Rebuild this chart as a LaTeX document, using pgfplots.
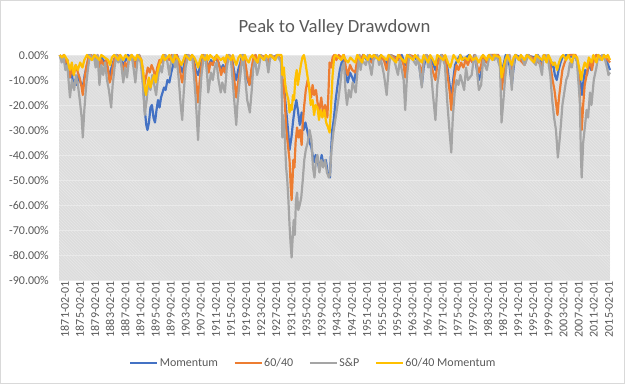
\documentclass[border=0pt]{standalone}
\usepackage{fontspec}
\setmainfont{Carlito}
\usepackage{pgfplots}
\pgfplotsset{compat=1.18}
\usepackage{pgfplotstable}
\usetikzlibrary{patterns}
\definecolor{cMom}{HTML}{4472C4}
\definecolor{cSixty}{HTML}{ED7D31}
\definecolor{cSP}{HTML}{A5A5A5}
\definecolor{cYel}{HTML}{FFC000}
\definecolor{txt}{HTML}{595959}
\definecolor{bgc}{HTML}{DCDCDC}
\definecolor{hatch}{HTML}{E9E9E9}
\definecolor{frame}{HTML}{D9D9D9}
\newcommand\tickfont{\fontsize{12bp}{14bp}\selectfont}

\pgfplotstableread{
x y
1871.0 0
1871.5 -2
1872.0 -1
1872.5 -4
1873.0 -2
1873.7 -9
1874.2 -7
1874.6 -13
1875.0 -10
1875.5 -12
1876.0 -8
1876.5 -11
1877.1 -13
1877.6 -8
1878.2 -4
1878.8 0
1879.5 -1
1880.0 0
1880.5 -2
1881.5 -3
1882.0 -1
1882.5 -2
1883.5 -4
1884.2 -9
1884.7 -5
1885.3 -2
1886.0 0
1887.0 -1
1887.8 -4
1888.5 -2
1889.0 0
1890.0 -1
1890.6 -3
1891.0 -4
1891.5 -1
1892.0 0
1892.6 -3
1893.0 -10
1893.5 -22
1893.9 -28
1894.2 -30
1894.6 -27
1895.0 -21
1895.4 -20
1895.8 -25
1896.2 -27
1896.6 -22
1897.0 -18
1897.4 -21
1897.8 -17
1898.2 -15
1898.6 -13
1899.0 -14
1899.5 -10
1900.0 -11
1900.5 -7
1901.0 -4
1901.5 -1
1902.0 0
1902.5 -2
1903.0 -5
1903.5 -7
1904.0 -3
1904.5 0
1905.5 -1
1906.0 0
1906.6 -3
1907.0 -6
1907.6 -8
1908.2 -4
1908.8 0
1909.5 -1
1910.3 -5
1911.0 -2
1911.5 -4
1912.0 -1
1913.0 -3
1913.6 -6
1914.2 -4
1914.7 -7
1915.2 -2
1915.8 0
1916.5 -1
1917.2 -7
1917.7 -10
1918.2 -6
1918.8 -3
1919.3 0
1920.0 -4
1920.7 -10
1921.2 -12
1921.7 -7
1922.2 -2
1922.8 0
1923.4 -3
1924.0 0
1925.0 -1
1926.2 -3
1926.7 0
1927.5 -1
1928.5 0
1929.5 -2
1929.9 -10
1930.5 -15
1930.9 -22
1931.4 -30
1931.8 -38
1932.3 -33
1932.7 -27
1933.1 -22
1933.6 -18
1934.0 -22
1934.5 -28
1935.0 -23
1935.5 -30
1936.0 -27
1936.6 -31
1937.1 -35
1937.6 -37
1938.2 -43
1938.7 -40
1939.2 -42
1939.7 -46
1940.3 -40
1940.8 -44
1941.4 -42
1941.9 -47
1942.5 -49
1942.8 -38
1943.1 -30
1943.5 -26
1944.0 -18
1944.6 -11
1945.1 -6
1945.6 -3
1946.1 -2
1946.7 -8
1947.2 -11
1947.8 -7
1948.4 -9
1948.9 -11
1949.4 -6
1950.0 -2
1950.6 -4
1951.2 0
1952.3 -2
1953.0 0
1953.6 -3
1954.2 0
1955.5 -1
1956.0 0
1956.8 -2
1957.3 -4
1957.8 -2
1958.5 0
1960.0 -1
1960.6 -2
1961.5 0
1962.4 -4
1963.0 0
1965.0 -1
1966.0 -3
1966.8 -12
1967.3 -5
1968.0 0
1969.3 -2
1969.9 -4
1970.4 -6
1971.0 -2
1972.0 0
1973.4 -3
1974.0 -10
1974.6 -17
1975.1 -10
1975.6 -4
1976.2 -2
1977.0 0
1977.8 -2
1978.5 -1
1979.3 0
1980.2 -3
1980.7 0
1981.4 -6
1981.9 -10
1982.5 -7
1983.0 -1
1984.0 -3
1984.6 0
1986.0 -1
1987.0 0
1987.9 -6
1988.4 -4
1989.0 0
1990.0 -4
1990.6 -12
1991.1 -5
1991.6 0
1993.0 -1
1994.0 -3
1994.6 0
1996.5 -1
1997.5 0
1998.6 -3
1999.2 0
2000.4 -2
2001.0 -5
2001.5 -3
2002.0 -8
2002.5 -10
2003.0 -6
2003.5 -3
2004.0 -1
2005.0 0
2006.0 -1
2006.8 0
2007.5 -1
2008.0 -3
2008.5 -8
2008.9 -12
2009.2 -16
2009.6 -10
2010.0 -6
2010.5 -8
2011.0 -3
2011.6 -6
2012.2 -2
2013.0 0
2014.0 -1
2015.0 0
2015.6 -2
2016.1 -4
2016.6 -6
}\tblMom

\pgfplotstableread{
x y
1871.0 0
1871.5 -2
1872.0 0
1872.5 -3
1873.0 -2
1873.7 -9
1874.2 -5
1874.7 -8
1875.2 -4
1875.8 -7
1876.4 -10
1876.8 -13
1877.1 -16
1877.5 -10
1878.0 -5
1878.6 -1
1879.2 0
1880.5 -2
1881.0 0
1881.5 -5
1882.0 -2
1882.6 -4
1883.3 -2
1883.8 -6
1884.2 -11
1884.6 -9
1885.1 -4
1885.6 -1
1886.2 0
1887.0 -1
1887.8 -7
1888.3 -3
1888.8 -5
1889.4 -1
1890.0 0
1890.6 -3
1891.0 -5
1891.5 -1
1892.0 0
1892.6 -2
1893.0 -6
1893.4 -12
1893.8 -9
1894.3 -5
1894.8 -7
1895.3 -4
1895.8 -6
1896.3 -9
1896.8 -5
1897.4 -2
1898.0 -3
1898.6 0
1899.5 -1
1900.0 -2
1900.6 0
1901.5 -2
1902.0 0
1902.6 -4
1903.0 -8
1903.4 -11
1903.9 -6
1904.4 -2
1905.0 0
1906.0 -1
1906.6 -4
1907.1 -10
1907.6 -19
1908.0 -11
1908.5 -4
1909.1 0
1910.0 -3
1910.4 -7
1910.9 -3
1911.5 -4
1912.0 -1
1912.8 -2
1913.3 -5
1913.7 -8
1914.2 -5
1914.7 -7
1915.2 -2
1915.8 0
1916.5 -1
1917.1 -9
1917.7 -17
1918.1 -12
1918.6 -7
1919.1 -2
1919.6 0
1920.2 -4
1920.7 -9
1921.2 -12
1921.7 -6
1922.3 -1
1922.8 0
1923.4 -3
1924.0 0
1925.5 -1
1926.2 -3
1926.7 0
1928.0 -1
1928.5 0
1929.7 -2
1929.9 -15
1930.2 -10
1930.6 -20
1930.9 -29
1931.3 -35
1931.8 -42
1932.1 -52
1932.35 -58
1932.6 -50
1932.8 -42
1933.1 -45
1933.4 -35
1933.8 -29
1934.2 -33
1934.6 -30
1935.0 -36
1935.3 -27
1935.7 -20
1936.1 -14
1936.6 -10
1937.0 -13
1937.5 -17
1937.9 -12
1938.3 -16
1938.8 -14
1939.2 -19
1939.7 -22
1940.2 -17
1940.7 -24
1941.2 -20
1941.8 -25
1942.1 -15
1942.4 -3
1942.8 -5
1943.2 -1
1943.6 0
1944.2 -2
1944.8 0
1945.6 -1
1946.2 0
1946.7 -5
1947.2 -8
1947.8 -4
1948.4 -6
1949.2 -7
1949.7 -2
1950.3 0
1950.7 -2
1951.3 0
1953.6 -3
1954.1 0
1956.8 -2
1957.5 -6
1958.1 -1
1958.6 0
1960.5 -2
1961.0 0
1962.0 -4
1962.4 -9
1962.9 -3
1963.5 0
1965.5 -1
1966.8 -7
1967.3 -2
1968.0 0
1969.0 -2
1969.8 -7
1970.4 -10
1970.9 -4
1971.6 -1
1972.2 0
1973.2 -3
1973.7 -9
1974.2 -15
1974.6 -22
1975.0 -14
1975.5 -8
1976.0 -4
1976.5 -6
1977.2 -3
1977.8 -5
1978.4 -2
1979.0 -4
1979.6 -1
1980.2 -3
1980.8 0
1981.4 -4
1981.9 -7
1982.5 -4
1983.0 0
1984.0 -3
1984.6 0
1987.0 0
1987.5 -2
1987.9 -14
1988.4 -9
1988.9 -5
1989.4 -1
1990.0 0
1990.6 -6
1991.1 -2
1991.6 0
1994.0 -4
1994.6 -1
1995.0 0
1998.6 -4
1999.1 0
2000.4 -1
2000.9 -5
2001.4 -10
2001.9 -14
2002.3 -19
2002.7 -24
2003.1 -17
2003.5 -12
2004.0 -6
2004.6 -3
2005.2 -1
2006.0 0
2007.5 0
2008.0 -3
2008.4 -10
2008.8 -22
2009.1 -30
2009.5 -20
2009.9 -12
2010.4 -8
2010.8 -5
2011.4 -2
2011.8 -6
2012.3 -2
2013.0 0
2015.4 -1
2016.0 -2
2016.6 -3
}\tblSixty

\pgfplotstableread{
x y
1871.0 0
1871.5 -3
1872.0 -1
1872.5 -6
1873.0 -4
1873.7 -17
1874.2 -10
1874.8 -14
1875.3 -8
1875.8 -12
1876.3 -18
1876.8 -25
1877.1 -33
1877.5 -22
1878.0 -12
1878.5 -5
1879.0 0
1879.5 -2
1880.0 0
1880.5 -5
1881.0 0
1881.5 -12
1882.0 -4
1882.5 -8
1883.0 -3
1883.5 -10
1884.0 -14
1884.6 -21
1885.0 -12
1885.5 -5
1886.0 0
1886.5 -3
1887.0 0
1887.8 -11
1888.3 -5
1888.8 -9
1889.3 -2
1890.0 0
1890.5 -5
1891.0 -11
1891.5 -3
1892.0 0
1892.5 -4
1893.0 -12
1893.5 -24
1894.0 -18
1894.5 -10
1895.0 -14
1895.5 -8
1896.0 -12
1896.5 -16
1897.0 -9
1897.5 -4
1898.0 -7
1898.5 -2
1899.0 0
1899.5 -3
1900.0 -8
1900.5 -2
1901.0 0
1901.5 -5
1902.0 -2
1902.5 -10
1903.0 -20
1903.4 -26
1903.8 -15
1904.3 -5
1905.0 0
1905.5 -2
1906.0 0
1906.5 -8
1907.0 -18
1907.6 -34
1908.0 -20
1908.5 -8
1909.0 -2
1909.5 0
1910.0 -8
1910.3 -15
1911.0 -7
1911.5 -10
1912.0 -5
1912.5 -3
1913.0 -10
1913.6 -15
1914.0 -11
1914.7 -15
1915.2 -5
1915.8 0
1916.3 -2
1917.0 -15
1917.7 -28
1918.0 -20
1918.5 -12
1919.0 -5
1919.5 0
1920.0 -8
1920.6 -18
1921.3 -23
1921.8 -14
1922.2 -5
1922.7 -2
1923.2 -8
1923.7 -5
1924.2 0
1925.0 -2
1925.5 0
1926.2 -7
1926.6 -2
1927.0 0
1928.0 -2
1928.5 0
1929.6 -3
1929.8 -20
1929.9 -33
1930.1 -24
1930.4 -28
1930.9 -45
1931.2 -50
1931.5 -58
1931.8 -68
1932.1 -76
1932.35 -81
1932.6 -74
1932.9 -66
1933.2 -72
1933.5 -58
1933.8 -55
1934.1 -62
1934.5 -60
1934.9 -57
1935.3 -50
1935.7 -42
1936.1 -38
1936.6 -35
1937.1 -30
1937.6 -34
1938.0 -45
1938.4 -49
1938.8 -42
1939.2 -40
1939.7 -47
1940.2 -42
1940.7 -45
1941.2 -42
1941.7 -47
1942.2 -49
1942.5 -48
1942.9 -38
1943.4 -31
1943.9 -26
1944.3 -22
1944.7 -18
1945.2 -12
1945.7 -5
1946.2 -3
1946.6 -14
1947.0 -20
1947.5 -14
1948.0 -17
1948.5 -11
1949.3 -15
1949.8 -6
1950.3 0
1950.6 -6
1951.0 -2
1952.0 -4
1952.5 0
1953.5 -8
1954.0 -2
1955.0 0
1955.5 -4
1956.0 -2
1956.8 -8
1957.5 -16
1958.0 -6
1958.5 0
1959.5 -2
1960.5 -8
1961.0 -2
1962.0 -10
1962.4 -22
1962.9 -8
1963.5 0
1964.5 -2
1965.3 -4
1965.8 0
1966.8 -13
1967.3 -3
1968.0 0
1968.5 -5
1969.0 -2
1969.7 -15
1970.4 -26
1970.9 -12
1971.5 -5
1972.0 0
1972.9 -4
1973.5 -18
1974.0 -28
1974.6 -39
1975.0 -25
1975.5 -15
1976.0 -10
1976.5 -12
1977.0 -8
1978.0 -14
1978.5 -5
1979.0 -10
1980.0 -8
1980.5 -2
1981.0 0
1981.9 -14
1982.5 -12
1983.0 -2
1984.0 -6
1984.5 -2
1985.0 0
1986.0 -2
1986.5 0
1987.5 -5
1987.9 -27
1988.4 -18
1988.8 -10
1989.3 -3
1990.0 0
1990.6 -14
1991.0 -5
1991.5 0
1992.5 -2
1993.0 0
1994.0 -4
1994.5 -2
1995.0 0
1996.0 -2
1997.0 -4
1997.5 0
1998.6 -8
1999.0 0
1999.5 -2
2000.0 0
2000.8 -8
2001.3 -18
2001.8 -25
2002.3 -30
2002.8 -41
2003.2 -35
2003.6 -28
2004.0 -20
2004.5 -15
2005.0 -10
2005.5 -8
2006.0 -3
2006.5 -5
2007.0 0
2007.8 -2
2008.2 -10
2008.6 -18
2008.9 -40
2009.1 -49
2009.5 -35
2010.0 -28
2010.4 -22
2010.8 -25
2011.3 -15
2011.7 -20
2012.3 -10
2013.0 -5
2013.5 0
2014.0 -2
2014.5 0
2015.3 -2
2015.8 -5
2016.2 -8
2016.6 -7
}\tblSP

\pgfplotstableread{
x y
1871.0 0
1871.6 -1
1872.2 0
1873.0 -2
1873.7 -6
1874.2 -3
1874.7 -8
1875.2 -4
1875.8 -6
1876.4 -3
1877.0 -5
1877.5 -2
1878.2 0
1879.5 -2
1880.2 0
1881.5 -2
1882.0 0
1883.8 -2
1884.3 -4
1884.8 -1
1885.4 0
1886.5 -2
1887.0 0
1887.8 -2
1888.4 0
1889.5 -2
1890.0 0
1890.6 -1
1891.0 -2
1891.5 0
1892.6 -2
1893.0 -6
1893.4 -12
1893.8 -16
1894.2 -12
1894.6 -9
1895.0 -13
1895.5 -10
1896.0 -8
1896.4 -11
1896.8 -7
1897.3 -4
1897.8 -2
1898.3 0
1898.8 -2
1899.5 -1
1900.0 0
1901.0 -3
1901.5 0
1902.6 -2
1903.2 -4
1903.7 -2
1904.2 0
1905.5 -2
1906.0 0
1906.6 -1
1907.2 -3
1907.6 -5
1908.1 -2
1908.6 0
1909.5 -2
1910.0 0
1910.3 -2
1910.8 0
1912.0 -2
1912.5 0
1913.6 -2
1914.3 -1
1914.7 -3
1915.2 0
1916.3 -2
1916.8 0
1917.2 -2
1917.7 -4
1918.3 -1
1918.8 0
1919.5 -2
1920.0 0
1920.5 -2
1921.0 -3
1921.5 -1
1922.0 0
1923.3 -3
1923.8 0
1925.0 -2
1925.5 0
1926.2 -1
1926.7 0
1928.0 -2
1928.5 0
1929.7 0
1929.9 -8
1930.3 -5
1930.6 -11
1931.0 -15
1931.5 -18
1931.8 -23
1932.1 -20
1932.4 -22
1932.7 -16
1933.0 -18
1933.3 -10
1933.7 -6
1934.0 -12
1934.4 -8
1934.8 -4
1935.2 -1
1935.6 0
1936.0 -3
1936.5 -8
1937.0 -13
1937.4 -20
1937.9 -18
1938.3 -24
1938.7 -20
1939.2 -21
1939.6 -26
1940.0 -22
1940.5 -25
1941.0 -22
1941.5 -27
1942.0 -29
1942.4 -31
1942.8 -20
1943.2 -8
1943.6 -1
1944.0 0
1945.5 -2
1946.0 0
1946.7 -2
1947.3 -3
1947.9 -1
1948.5 -2
1949.2 -3
1949.7 0
1951.0 -3
1951.5 0
1952.5 -2
1953.0 0
1953.6 -1
1954.1 0
1955.5 -2
1956.0 0
1957.5 -2
1958.0 0
1960.0 -3
1960.5 0
1962.4 -3
1962.9 0
1964.5 -2
1965.0 0
1966.8 -3
1967.3 0
1968.5 -3
1969.0 0
1969.8 -2
1970.4 -4
1970.9 0
1972.5 -2
1973.0 0
1973.7 -3
1974.3 -5
1974.7 -3
1975.2 0
1976.5 -3
1977.0 0
1977.5 -2
1978.2 -1
1979.0 -2
1979.5 0
1980.3 -2
1981.2 -1
1981.9 -3
1982.5 -1
1983.0 0
1984.0 -2
1984.5 0
1985.5 -2
1986.0 0
1987.5 -1
1987.9 -9
1988.4 -5
1988.9 -2
1989.4 0
1990.6 -4
1991.1 -1
1991.6 0
1992.5 -2
1993.0 0
1994.0 -2
1994.6 0
1996.5 -3
1997.0 0
1998.6 -2
1999.1 0
1999.8 -3
2000.3 0
2000.9 -2
2001.5 -4
2002.0 -3
2002.6 -6
2003.1 -3
2003.6 -1
2004.2 0
2005.0 -2
2005.5 0
2006.5 -3
2007.0 0
2007.9 -1
2008.3 -4
2008.7 -7
2009.0 -10
2009.4 -6
2009.9 -3
2010.5 -5
2011.0 -1
2011.7 -3
2012.2 0
2013.0 -3
2013.5 0
2014.5 -2
2015.0 0
2015.5 -1
2016.0 0
2016.6 -2
}\tblYel

\begin{document}
\begin{tikzpicture}[x=1bp,y=1bp]
\useasboundingbox (0,0) rectangle (630,387);
\draw[frame, line width=0.75bp] (0.5,4) rectangle (624.5,386.5);
\node[font=\fontsize{18.67bp}{22bp}\selectfont, text=txt] at (334.5,359) {Peak to Valley Drawdown};
\begin{axis}[
  at={(59bp,107bp)}, anchor=south west,
  scale only axis, width=551bp, height=225bp,
  xmin=1870.8, xmax=2016.6, ymin=-90, ymax=0,
  axis line style={draw=none},
  major tick length=0pt,
  clip=false,
  ytick={-90,-80,-70,-60,-50,-40,-30,-20,-10,0},
  yticklabels={-90.00\%,-80.00\%,-70.00\%,-60.00\%,-50.00\%,-40.00\%,-30.00\%,-20.00\%,-10.00\%,0.00\%},
  xtick={1871,1875,1879,1883,1887,1891,1895,1899,1903,1907,1911,1915,1919,1923,1927,1931,1935,1939,1943,1947,1951,1955,1959,1963,1967,1971,1975,1979,1983,1987,1991,1995,1999,2003,2007,2011,2015},
  xticklabels={1871-02-01,1875-02-01,1879-02-01,1883-02-01,1887-02-01,1891-02-01,1895-02-01,1899-02-01,1903-02-01,1907-02-01,1911-02-01,1915-02-01,1919-02-01,1923-02-01,1927-02-01,1931-02-01,1935-02-01,1939-02-01,1943-02-01,1947-02-01,1951-02-01,1955-02-01,1959-02-01,1963-02-01,1967-02-01,1971-02-01,1975-02-01,1979-02-01,1983-02-01,1987-02-01,1991-02-01,1995-02-01,1999-02-01,2003-02-01,2007-02-01,2011-02-01,2015-02-01},
  xticklabel style={rotate=90, anchor=east, font=\tickfont, text=txt, inner sep=1bp, yshift=-5bp},
  yticklabel style={font=\tickfont, text=txt, inner sep=1bp, xshift=-9bp},
  ymajorgrids,
  grid style={draw=hatch, line width=0.75bp},
  axis background/.style={fill=bgc, postaction={pattern=north west lines, pattern color=hatch}},
  legend columns=4,
  legend style={at={(0.461,-0.369)}, anchor=center, draw=none, fill=none,
    font=\tickfont, text=txt,
    /tikz/every even column/.append style={column sep=14bp},
    nodes={inner sep=1.5bp}},
  legend image code/.code={\draw[#1] (0bp,0bp) -- (27bp,0bp);},
  every axis plot/.append style={line width=2.2pt, line join=round},
]
\addplot[cMom] table {\tblMom};
\addlegendentry{Momentum}
\addplot[cSixty] table {\tblSixty};
\addlegendentry{60/40}
\addplot[cSP] table {\tblSP};
\addlegendentry{S\&P}
\addplot[cYel] table {\tblYel};
\addlegendentry{60/40 Momentum}
\end{axis}
\end{tikzpicture}
\end{document}
